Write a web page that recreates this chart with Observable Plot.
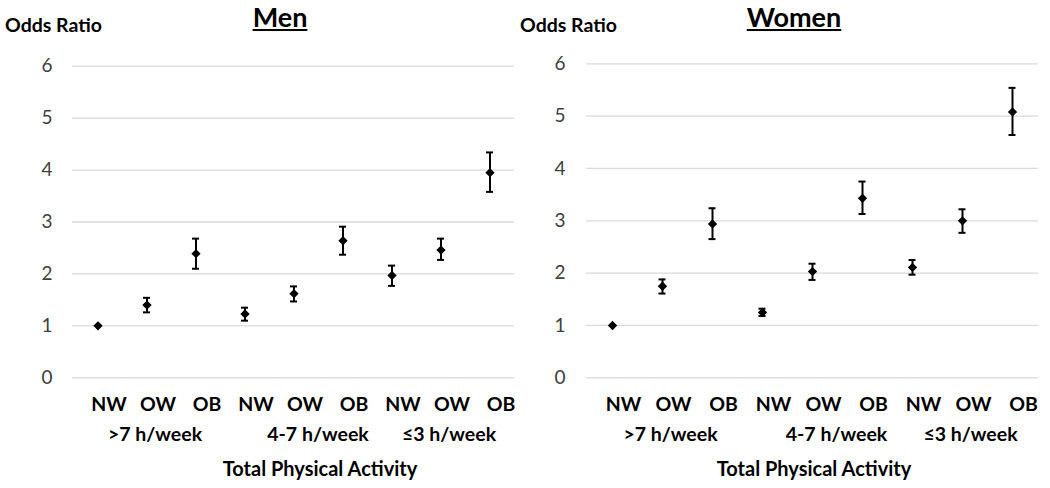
<!DOCTYPE html>
<html><head><meta charset="utf-8">
<script src="https://cdn.jsdelivr.net/npm/d3@7"></script>
<script src="https://cdn.jsdelivr.net/npm/@observablehq/plot@0.6"></script>
<style>
body{margin:0;background:#fff;font-family:Lato, "Open Sans", sans-serif;}
#wrap{position:relative;width:1050px;height:488px;overflow:hidden;background:#fff}
.panel{position:absolute;top:0;width:525px;height:488px}
.head{position:relative;height:50px}
.yl{position:absolute;top:14px;font-weight:bold;font-size:19.5px;line-height:22px;white-space:nowrap;color:#000}
.ttl{position:absolute;top:2px;font-weight:bold;font-size:27px;line-height:30px;text-decoration:underline;transform:translateX(-50%);white-space:nowrap;color:#000}
.foot{position:relative;height:38px}
.xl{position:absolute;top:6px;font-weight:bold;font-size:20px;line-height:24px;transform:translateX(-50%);white-space:nowrap;color:#000}
svg{display:block}
</style>
</head><body>
<div id="wrap">
  <div class="panel" id="men" style="left:0">
    <div class="head"><div class="yl" style="left:5px">Odds Ratio</div><div class="ttl" style="left:280px">Men</div></div>
    <div class="plot"></div>
    <div class="foot"><div class="xl" style="left:320px">Total Physical Activity</div></div>
  </div>
  <div class="panel" id="women" style="left:525px">
    <div class="head"><div class="yl" style="left:-5px">Odds Ratio</div><div class="ttl" style="left:269px">Women</div></div>
    <div class="plot"></div>
    <div class="foot"><div class="xl" style="left:289px">Total Physical Activity</div></div>
  </div>
</div>
<script>
const categories = ["NW","OW","OB","NW","OW","OB","NW","OW","OB"];
const groups = [">7 h/week","4-7 h/week","≤3 h/week"];
const yTicks = [0,1,2,3,4,5,6];

const menOR   = [1.00, 1.40, 2.39, 1.23, 1.62, 2.64, 1.97, 2.46, 3.95];
const menLow  = [1.00, 1.26, 2.10, 1.10, 1.47, 2.37, 1.77, 2.27, 3.58];
const menHigh = [1.00, 1.54, 2.68, 1.35, 1.76, 2.91, 2.16, 2.68, 4.34];

const womenOR   = [1.00, 1.75, 2.94, 1.25, 2.03, 3.43, 2.11, 3.00, 5.08];
const womenLow  = [1.00, 1.61, 2.65, 1.18, 1.87, 3.13, 1.97, 2.77, 4.64];
const womenHigh = [1.00, 1.88, 3.24, 1.32, 2.18, 3.75, 2.25, 3.22, 5.54];

function panel(sel, or, lo, hi, m) {
  const rows = categories.map((c, i) => ({i, c, or: or[i], lo: lo[i], hi: hi[i]}));
  const bars = rows.filter(d => d.hi > d.lo);
  const groupRows = groups.map((g, k) => ({i: k * 3 + 1, g, k}));
  const chart = Plot.plot({
    width: 525, height: 400,
    marginLeft: m.left, marginRight: m.right, marginTop: m.top, marginBottom: m.bottom,
    style: {fontFamily: "Lato, 'Open Sans', sans-serif", background: "white", overflow: "visible"},
    x: {type: "band", domain: d3.range(categories.length), padding: 0, axis: null},
    y: {domain: [0, 6], axis: null},
    marks: [
      Plot.ruleY(yTicks, {stroke: "#d9d9d9", strokeWidth: 1.3}),
      Plot.axisY({ticks: yTicks, tickFormat: d3.format("d"), tickSize: 0, tickPadding: m.pad, fontSize: 19, fill: "#404040", label: null}),
      Plot.ruleX(bars, {x: "i", y1: "lo", y2: "hi", stroke: "black", strokeWidth: 2}),
      Plot.tickY(bars, {x: "i", y: "lo", stroke: "black", strokeWidth: 2, insetLeft: m.cap, insetRight: m.cap}),
      Plot.tickY(bars, {x: "i", y: "hi", stroke: "black", strokeWidth: 2, insetLeft: m.cap, insetRight: m.cap}),
      Plot.dot(rows, {x: "i", y: "or", symbol: "diamond2", r: 4.2, fill: "black", stroke: "none"}),
      Plot.text(rows, {x: "i", text: "c", frameAnchor: "bottom", dy: 33, dx: 11, fontSize: 19.5, fontWeight: "bold", fill: "black"}),
      Plot.text(groupRows.filter(d => d.k !== 1), {x: "i", text: "g", frameAnchor: "bottom", dy: 63, dx: 8, fontSize: 19.5, fontWeight: "bold", fill: "black"}),
      Plot.text(groupRows.filter(d => d.k === 1), {x: "i", text: "g", frameAnchor: "bottom", dy: 63, dx: 24, fontSize: 19.5, fontWeight: "bold", fill: "black"})
    ]
  });
  document.querySelector(sel + " .plot").appendChild(chart);
}

panel("#men", menOR, menLow, menHigh, {left: 72, right: 11, top: 15.7, bottom: 72.7, pad: 20, cap: 21});
panel("#women", womenOR, womenLow, womenHigh, {left: 61, right: 12, top: 13.3, bottom: 72.7, pad: 21, cap: 21.5});
</script>
</body></html>
